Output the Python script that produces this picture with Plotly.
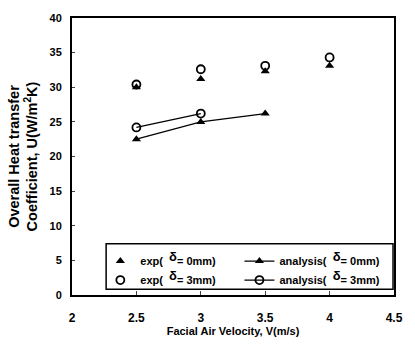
import plotly.graph_objects as go

x_exp = [2.5, 3.0, 3.5, 4.0]
exp_d0 = [30.0, 31.2, 32.3, 33.1]
exp_d3 = [30.4, 32.6, 33.1, 34.3]
x_ana0 = [2.5, 3.0, 3.5]
ana_d0 = [22.5, 25.0, 26.2]
x_ana3 = [2.5, 3.0]
ana_d3 = [24.2, 26.2]

x_ticks = [2, 2.5, 3, 3.5, 4, 4.5]
y_ticks = [0, 5, 10, 15, 20, 25, 30, 35, 40]

FONT = "Liberation Sans"
D = "<sup><span style='font-size:13px'>δ</span></sup>"

tri = dict(symbol="triangle-up", size=8, color="black")
circ = dict(symbol="circle-open", size=8, color="black", line=dict(width=1.8, color="black"))

fig = go.Figure()
fig.add_trace(go.Scatter(x=x_exp, y=exp_d0, mode="markers", legend="legend",
                         name=f"<b>exp(  {D}= 0mm)</b>", marker=tri))
fig.add_trace(go.Scatter(x=x_exp, y=exp_d3, mode="markers", legend="legend",
                         name=f"<b>exp(  {D}= 3mm)</b>", marker=circ))
fig.add_trace(go.Scatter(x=x_ana0, y=ana_d0, mode="lines+markers", legend="legend2",
                         name=f"<b>analysis(  {D}= 0mm)</b>",
                         line=dict(color="black", width=1.2), marker=tri))
fig.add_trace(go.Scatter(x=x_ana3, y=ana_d3, mode="lines+markers", legend="legend2",
                         name=f"<b>analysis(  {D}= 3mm)</b>",
                         line=dict(color="black", width=1.2), marker=circ))

leg_common = dict(orientation="v", yanchor="top", y=0.175, xanchor="left",
                  bgcolor="rgba(0,0,0,0)", borderwidth=0, tracegroupgap=0,
                  itemwidth=30, font=dict(family=FONT, size=11, color="black"))

fig.update_layout(
    width=415, height=345,
    margin=dict(l=72, r=12, t=14, b=45),
    paper_bgcolor="white", plot_bgcolor="white",
    font=dict(family=FONT, size=11, color="black"),
    showlegend=True,
    legend=dict(x=0.088, **leg_common),
    legend2=dict(x=0.52, **leg_common),
    shapes=[dict(type="rect", xref="paper", yref="paper", x0=0.106, x1=0.997,
                 y0=0.021, y1=0.185, line=dict(color="black", width=1.5),
                 fillcolor="white", layer="below")],
    xaxis=dict(range=[2, 4.5], tickvals=x_ticks, ticks="inside", ticklen=4,
               showline=True, linecolor="black", linewidth=2, mirror=True,
               showgrid=False, zeroline=False, ticklabelstandoff=11,
               tickfont=dict(family=FONT, size=12, color="black", weight="bold"),
               title=dict(text="<b>Facial Air Velocity, V(m/s)</b>", standoff=0,
                          font=dict(family=FONT, size=11))),
    yaxis=dict(range=[0, 40], tickvals=y_ticks, ticks="inside", ticklen=3,
               showline=True, linecolor="black", linewidth=2, mirror=True,
               showgrid=False, zeroline=False, ticklabelstandoff=6,
               tickfont=dict(family=FONT, size=11, color="black", weight="bold"),
               title=dict(text="<b>Overall Heat transfer<br>Coefficient, U(W/m<sup>2</sup>K)</b>",
                          standoff=8, font=dict(family=FONT, size=14.5))),
)

fig.write_html("out.html")
